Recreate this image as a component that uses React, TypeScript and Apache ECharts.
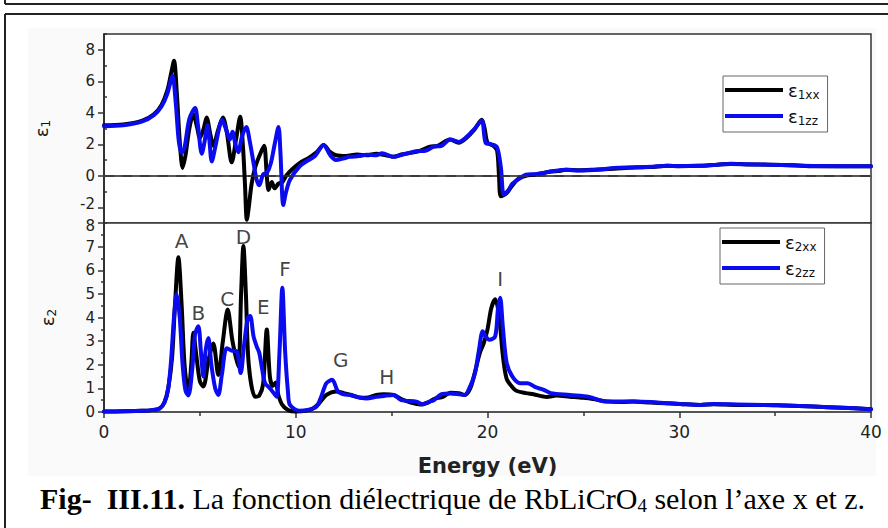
import { useEffect, useRef } from "react";
import * as echarts from "echarts";

// ---- data ----
const xTickLabels = [0, 10, 20, 30, 40];
const eps1Labels = [-2, 0, 2, 4, 6, 8];
const eps1MinorTicks = [-3, -1, 1, 3, 5, 7, 9];

const eps1xx: [number, number][] = [
  [0, 3.2], [1, 3.25], [2, 3.5], [2.6, 3.9], [3.0, 4.5], [3.3, 5.4], [3.5, 6.5], [3.65, 7.3], [3.8, 5.2],
  [3.95, 2.2], [4.1, 0.5], [4.25, 1.3], [4.45, 3.0], [4.66, 3.9], [4.85, 3.1], [5.0, 2.4], [5.2, 3.0],
  [5.35, 3.7], [5.55, 2.6], [5.7, 1.9], [5.95, 2.9], [6.2, 3.7], [6.4, 2.8], [6.66, 0.85], [6.9, 2.4],
  [7.1, 3.75], [7.25, 1.8], [7.35, -0.5], [7.45, -2.8], [7.55, -2.0], [7.7, -0.5], [7.9, 0.6], [8.15, 1.4],
  [8.35, 1.9], [8.48, 0.2], [8.58, -0.9], [8.75, -0.4], [8.9, -0.8], [9.1, -0.5], [9.3, -0.4], [9.5, 0.0],
  [9.8, 0.4], [10.2, 0.8], [10.7, 1.15], [11.1, 1.5], [11.45, 1.95], [11.8, 1.5], [12.1, 1.3], [12.6, 1.25],
  [13.2, 1.35], [13.7, 1.3], [14.2, 1.4], [14.7, 1.3], [15.1, 1.2], [15.5, 1.35], [16.0, 1.45], [16.5, 1.6],
  [17.0, 1.85], [17.4, 1.9], [18.05, 2.3], [18.5, 2.1], [18.9, 2.4], [19.3, 2.9], [19.7, 3.55], [19.85, 3.0],
  [20.0, 2.1], [20.3, 1.9], [20.5, 1.6], [20.6, 0.0], [20.7, -1.3], [21.0, -1.1], [21.3, -0.6], [21.6, -0.2],
  [22.0, 0.0], [22.4, 0.06], [22.8, 0.15], [23.3, 0.27], [23.7, 0.3], [24.1, 0.38], [24.8, 0.35], [25.5, 0.38],
  [26.6, 0.45], [27.6, 0.53], [28.5, 0.55], [29.4, 0.63], [30.0, 0.6], [31.1, 0.63], [32.0, 0.7], [32.7, 0.76],
  [33.5, 0.72], [34.7, 0.7], [36.0, 0.66], [37.0, 0.6], [38.5, 0.6], [40, 0.6],
];

const eps1zz: [number, number][] = [
  [0, 3.15], [1, 3.2], [2, 3.45], [2.6, 3.85], [3.0, 4.4], [3.3, 5.2], [3.5, 6.1], [3.58, 6.35], [3.75, 4.5],
  [3.9, 2.2], [4.05, 1.45], [4.2, 1.8], [4.45, 3.6], [4.75, 4.3], [4.9, 3.2], [5.1, 1.4], [5.25, 2.2],
  [5.4, 3.2], [5.5, 2.2], [5.62, 0.9], [5.8, 1.8], [6.0, 3.0], [6.15, 3.55], [6.35, 3.0], [6.57, 2.3],
  [6.7, 2.8], [6.85, 2.0], [7.0, 1.5], [7.2, 2.5], [7.42, 3.1], [7.6, 2.2], [7.8, 0.8], [7.96, -0.25],
  [8.1, -0.6], [8.3, 0.1], [8.5, 0.2], [8.7, 0.8], [8.9, 2.0], [9.1, 3.1], [9.2, 1.5], [9.35, -1.85],
  [9.5, -1.0], [9.7, -0.25], [10.2, 0.6], [10.6, 0.95], [11.0, 1.25], [11.45, 1.95], [11.8, 1.3], [12.1, 1.0],
  [12.5, 1.1], [12.8, 1.2], [13.3, 1.25], [13.7, 1.33], [14.2, 1.3], [14.5, 1.43], [15.1, 1.2], [15.6, 1.35],
  [16.3, 1.55], [16.8, 1.6], [17.2, 1.85], [17.6, 1.9], [18.05, 2.3], [18.5, 2.15], [18.9, 2.45], [19.3, 2.95],
  [19.7, 3.5], [19.9, 2.1], [20.2, 2.0], [20.5, 1.8], [20.7, 0.5], [20.85, -1.2], [21.1, -0.9], [21.3, -0.5],
  [21.7, -0.15], [22.0, 0.06], [22.5, 0.1], [23.0, 0.2], [23.3, 0.27], [24.1, 0.38], [24.8, 0.33], [25.9, 0.4],
  [26.6, 0.5], [27.6, 0.53], [28.6, 0.57], [29.35, 0.63], [30, 0.62], [31.1, 0.63], [32.7, 0.75], [34, 0.72],
  [34.7, 0.7], [36, 0.65], [37, 0.62], [40, 0.6],
];

const eps2xx: [number, number][] = [
  [0, 0.02], [1, 0.03], [2, 0.05], [2.5, 0.08], [2.9, 0.15], [3.15, 0.4], [3.35, 1.0], [3.55, 2.3], [3.7, 4.5],
  [3.88, 6.55], [4.05, 4.5], [4.2, 2.0], [4.4, 0.8], [4.55, 2.0], [4.66, 3.35], [4.8, 2.5], [5.0, 1.3],
  [5.18, 1.08], [5.45, 2.2], [5.7, 2.9], [5.96, 1.57], [6.2, 3.0], [6.45, 4.34], [6.7, 3.0], [7.0, 1.93],
  [7.15, 5.0], [7.27, 7.03], [7.4, 5.0], [7.55, 2.0], [7.88, 0.65], [8.1, 0.7], [8.3, 1.2], [8.49, 3.49],
  [8.65, 1.5], [8.8, 1.1], [8.95, 1.25], [9.1, 0.7], [9.3, 0.3], [9.6, 0.08], [10.0, 0.02], [10.5, 0.05],
  [10.9, 0.15], [11.2, 0.35], [11.6, 0.72], [12.1, 0.87], [12.5, 0.8], [12.9, 0.72], [13.4, 0.6], [13.8, 0.62],
  [14.2, 0.72], [14.6, 0.75], [15.1, 0.72], [15.5, 0.55], [16.0, 0.4], [16.5, 0.32], [16.9, 0.4], [17.2, 0.55],
  [17.7, 0.65], [18.05, 0.82], [18.5, 0.8], [18.8, 0.72], [19.1, 1.0], [19.35, 1.7], [19.6, 2.5], [19.8, 2.9],
  [20.0, 3.5], [20.2, 4.4], [20.4, 4.77], [20.6, 4.1], [20.8, 2.4], [21.0, 1.4], [21.3, 1.05], [21.5, 0.9],
  [22.0, 0.8], [22.4, 0.75], [23.1, 0.64], [23.6, 0.7], [24.3, 0.65], [25.0, 0.6], [25.5, 0.55], [26.2, 0.45],
  [27.0, 0.42], [27.6, 0.44], [28.5, 0.4], [29.35, 0.37], [30.05, 0.34], [31.1, 0.3], [31.8, 0.33], [33, 0.3],
  [34.4, 0.3], [35.5, 0.27], [37, 0.23], [38.5, 0.18], [40, 0.12],
];

const eps2zz: [number, number][] = [
  [0, 0.02], [1, 0.03], [2, 0.05], [2.5, 0.08], [2.9, 0.15], [3.15, 0.4], [3.35, 1.0], [3.5, 2.2], [3.65, 4.0],
  [3.79, 4.98], [3.95, 4.0], [4.1, 2.0], [4.25, 0.9], [4.4, 0.7], [4.6, 1.8], [4.75, 3.3], [4.92, 3.63],
  [5.05, 2.6], [5.18, 1.5], [5.3, 2.6], [5.44, 3.13], [5.6, 2.0], [5.8, 1.0], [5.96, 0.72], [6.15, 1.6],
  [6.4, 2.7], [6.65, 2.6], [6.92, 2.57], [7.13, 1.65], [7.3, 2.8], [7.5, 4.0], [7.62, 4.06], [7.8, 3.2],
  [7.96, 2.78], [8.1, 2.5], [8.25, 1.8], [8.4, 1.22], [8.66, 1.0], [8.85, 0.8], [9.0, 0.65], [9.15, 2.5],
  [9.3, 5.26], [9.45, 2.5], [9.6, 0.8], [9.7, 0.3], [10.2, 0.05], [10.7, 0.1], [11.1, 0.25], [11.35, 0.7],
  [11.6, 1.22], [11.9, 1.36], [12.2, 0.87], [12.5, 0.75], [12.83, 0.72], [13.3, 0.62], [13.7, 0.57], [14.2, 0.64],
  [14.6, 0.68], [15.1, 0.72], [15.5, 0.5], [16.3, 0.44], [16.6, 0.32], [16.9, 0.42], [17.2, 0.5], [17.6, 0.75],
  [18.05, 0.78], [18.5, 0.75], [18.8, 0.72], [19.1, 1.1], [19.35, 1.65], [19.55, 2.6], [19.75, 3.42], [19.9, 3.2],
  [20.1, 3.06], [20.4, 3.2], [20.55, 4.4], [20.66, 4.84], [20.8, 3.6], [21.0, 2.08], [21.3, 1.5], [21.7, 1.22],
  [22.1, 1.22], [22.5, 1.05], [22.9, 0.95], [23.3, 0.8], [24.3, 0.72], [25.3, 0.64], [26.2, 0.44], [27.6, 0.44],
  [28.5, 0.42], [29.35, 0.37], [30.05, 0.34], [31.1, 0.3], [31.8, 0.34], [33, 0.32], [34.4, 0.3], [35.5, 0.28],
  [37, 0.23], [38.5, 0.18], [40, 0.12],
];

const peakNames = ["A", "B", "C", "D", "E", "F", "G", "H", "I"];
const peakE = [4.05, 4.92, 6.43, 7.27, 8.31, 9.44, 12.35, 14.75, 20.66];
const peakV = [7.25, 4.2, 4.77, 7.39, 4.45, 6.04, 2.21, 1.5, 5.62];

const seriesNames = ["ε1xx", "ε1zz", "ε2xx", "ε2zz"];
const captionBold = "Fig-  III.11.";
const captionText1 = " La fonction diélectrique de RbLiCrO";
const captionSub = "4";
const captionText2 = " selon l’axe x et z.";

const BLACK = "#000000";
const BLUE = "#0b0bf0";
const SANS = "DejaVu Sans";

const epsRich = {
  e: { fontSize: 18, fontFamily: SANS, color: "#111", lineHeight: 22, verticalAlign: "middle" },
  s: { fontSize: 12, fontFamily: SANS, color: "#111", lineHeight: 22, verticalAlign: "bottom" },
};

const tickRich = {
  up: { fontSize: 15, fontFamily: SANS, color: "#222", padding: [0, 0, 6, 0] },
  dn: { fontSize: 15, fontFamily: SANS, color: "#222", padding: [6, 0, 0, 0] },
};

export default function App() {
  const ref = useRef<HTMLDivElement>(null);
  useEffect(() => {
    if (!ref.current) return;
    const chart = echarts.init(ref.current, null, { renderer: "svg" });
    const lineSeries = (name: string, data: [number, number][], color: string, grid: number, yIdx: number, extra: any = {}) => ({
      name,
      type: "line",
      xAxisIndex: grid,
      yAxisIndex: yIdx,
      data,
      showSymbol: false,
      symbol: "none",
      smooth: 0.3,
      lineStyle: { color, width: 4, join: "round", cap: "round" },
      itemStyle: { color },
      z: color === BLUE ? 3 : 2,
      ...extra,
    });
    const legendBase = {
      orient: "vertical",
      itemWidth: 58,
      itemHeight: 4,
      itemGap: 6,
      icon: "rect",
      borderColor: "#666",
      borderWidth: 1,
      backgroundColor: "#fff",
      padding: [5, 8, 5, 2],
      formatter: (n: string) => `{e|ε}{s|${n.slice(1)}}`,
      textStyle: { rich: epsRich },
    };
    chart.setOption({
      animation: false,
      backgroundColor: "#ffffff",
      graphic: [
        { type: "rect", shape: { x: 28, y: 28, width: 848, height: 448 }, style: { fill: "#fafafa" }, z: -10, silent: true },
        { type: "line", shape: { x1: 5, y1: 4, x2: 888, y2: 4 }, style: { stroke: "#222", lineWidth: 2 } },
        { type: "line", shape: { x1: 5, y1: 0, x2: 5, y2: 4 }, style: { stroke: "#222", lineWidth: 2 } },
        { type: "line", shape: { x1: 5, y1: 14, x2: 888, y2: 14 }, style: { stroke: "#222", lineWidth: 2 } },
        { type: "line", shape: { x1: 5, y1: 14, x2: 5, y2: 528 }, style: { stroke: "#222", lineWidth: 2 } },
        {
          type: "text",
          left: 40,
          top: 483,
          style: {
            text: `{b|${captionBold}}{r|${captionText1}}{sub|${captionSub}}{r|${captionText2}}`,
            rich: {
              b: { fontFamily: "Liberation Serif", fontSize: 30, fontWeight: "bold", fill: "#000", lineHeight: 33, verticalAlign: "middle" },
              r: { fontFamily: "Liberation Serif", fontSize: 30, fill: "#000", lineHeight: 33, verticalAlign: "middle" },
              sub: { fontFamily: "Liberation Serif", fontSize: 19, fill: "#000", lineHeight: 33, verticalAlign: "bottom" },
            },
          },
        },
      ],
      grid: [
        { left: 104, top: 34, width: 767, height: 189, show: true, borderColor: "#333", borderWidth: 1.5, backgroundColor: "#fff" },
        { left: 104, top: 223, width: 767, height: 189, show: true, borderColor: "#333", borderWidth: 1.5, backgroundColor: "#fff" },
      ],
      legend: [
        { ...legendBase, data: [seriesNames[0], seriesNames[1]], left: 723, top: 76 },
        { ...legendBase, data: [seriesNames[2], seriesNames[3]], left: 720, top: 228 },
      ],
      xAxis: [
        {
          gridIndex: 0, type: "value", min: 0, max: 40, interval: 10,
          axisLine: { show: true, lineStyle: { color: "#555", width: 2 } },
          axisTick: { show: false }, axisLabel: { show: false }, splitLine: { show: false },
        },
        {
          gridIndex: 1, type: "value", min: 0, max: 40, interval: 10,
          axisLine: { show: true, onZero: false, lineStyle: { color: "#555", width: 2 } },
          axisTick: { show: true, length: 6, lineStyle: { color: "#333", width: 1.5 } },
          minorTick: { show: true, splitNumber: 2, length: 4, lineStyle: { color: "#333", width: 1.5 } },
          axisLabel: {
            color: "#222", fontSize: 17, fontFamily: SANS, margin: 11,
            formatter: (v: number) => (xTickLabels.includes(v) ? String(v) : ""),
          },
          splitLine: { show: false },
          name: "Energy (eV)",
          nameLocation: "middle",
          nameGap: 43,
          nameTextStyle: { fontSize: 21, fontWeight: "bold", fontFamily: SANS, color: "#222" },
        },
      ],
      yAxis: [
        {
          gridIndex: 0, type: "value", min: -3, max: 9, interval: 1,
          axisLine: { show: true, onZero: false, lineStyle: { color: "#222", width: 1.5 } },
          axisTick: { show: true, length: 6, customValues: eps1Labels, lineStyle: { color: "#333", width: 1.5 } },
          axisLabel: {
            color: "#222", fontSize: 15, fontFamily: SANS, margin: 9, customValues: eps1Labels,
            formatter: (v: number) => (v === -2 ? "{up|-2}" : String(v)),
            rich: tickRich,
          },
          splitLine: { show: false },
          name: "{e|ε}{s|1}",
          nameLocation: "middle",
          nameRotate: 90,
          nameGap: 52,
          nameTextStyle: { rich: epsRich },
        },
        {
          gridIndex: 0, type: "value", min: -3, max: 9, interval: 1,
          axisLine: { show: false },
          axisTick: { show: true, length: 3, customValues: eps1MinorTicks, lineStyle: { color: "#333", width: 1.5 } },
          axisLabel: { show: false },
          splitLine: { show: false },
        },
        {
          gridIndex: 1, type: "value", min: 0, max: 8, interval: 1,
          axisLine: { show: true, onZero: false, lineStyle: { color: "#222", width: 1.5 } },
          axisTick: { show: true, length: 6, lineStyle: { color: "#333", width: 1.5 } },
          minorTick: { show: true, splitNumber: 2, length: 3, lineStyle: { color: "#333", width: 1.5 } },
          axisLabel: {
            color: "#222", fontSize: 15, fontFamily: SANS, margin: 9,
            formatter: (v: number) => (v === 8 ? "{dn|8}" : String(v)),
            rich: tickRich,
          },
          splitLine: { show: false },
          name: "{e|ε}{s|2}",
          nameLocation: "middle",
          nameRotate: 90,
          nameGap: 46,
          nameTextStyle: { rich: epsRich },
        },
      ],
      series: [
        lineSeries(seriesNames[0], eps1xx, BLACK, 0, 0, {
          markLine: {
            silent: true,
            symbol: ["none", "none"],
            label: { show: false },
            lineStyle: { color: "#333", width: 1.5, type: [10, 8] },
            data: [{ yAxis: 0 }],
          },
        }),
        lineSeries(seriesNames[1], eps1zz, BLUE, 0, 0),
        lineSeries(seriesNames[2], eps2xx, BLACK, 1, 2),
        lineSeries(seriesNames[3], eps2zz, BLUE, 1, 2),
        {
          type: "scatter",
          xAxisIndex: 1,
          yAxisIndex: 2,
          symbolSize: 0,
          silent: true,
          z: 5,
          data: peakNames.map((n, i) => ({ name: n, value: [peakE[i], peakV[i]] })),
          label: {
            show: true,
            position: "inside",
            formatter: (p: any) => p.name,
            fontSize: 20,
            fontFamily: SANS,
            color: "#111",
          },
        },
      ],
    });
    return () => chart.dispose();
  }, []);
  return <div ref={ref} style={{ position: "fixed", left: 0, top: 0, width: 888, height: 528 }} />;
}
